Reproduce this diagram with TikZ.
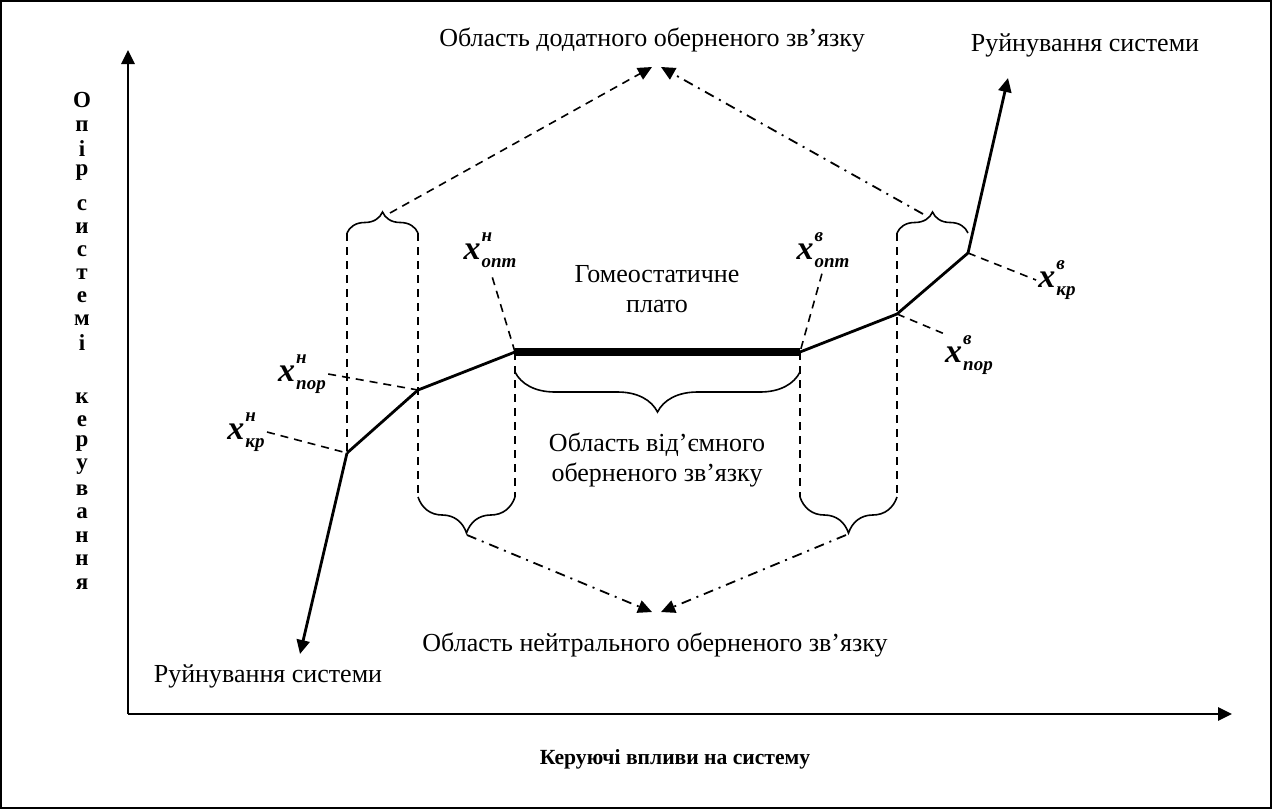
\documentclass[tikz,border=0pt]{standalone}
\usepackage{fontspec}
\setmainfont{Liberation Serif}
\usetikzlibrary{arrows.meta, decorations.pathreplacing}

\newcommand{\idxfont}{\fontsize{9.5}{9.5}\selectfont\bfseries\itshape}
\newcommand{\xpt}[2]{\textbf{\textit{x}}\kern0.5pt\rlap{\raisebox{1.15ex}{\idxfont #1}}\raisebox{-0.5ex}{\idxfont #2}}

\begin{document}
\begin{tikzpicture}[
  x=0.5pt, y=-0.5pt, >={Triangle[length=7pt, width=6.5pt]},
  curve/.style={line width=1.4pt},
  plateau/.style={line width=4pt},
  guide/.style={line width=0.8pt, dash pattern=on 4pt off 3pt},
  dashdot/.style={line width=0.9pt, dash pattern=on 5pt off 3pt on 1pt off 3pt},
  brc/.style={decorate, decoration={brace, amplitude=#1}, line width=0.8pt},
  txt/.style={font=\fontsize{13}{15}\selectfont, align=center, inner sep=0pt},
  xlab/.style={font=\fontsize{17}{17}\selectfont, inner sep=1pt},
  axletter/.style={font=\fontsize{11.5}{12}\selectfont\bfseries, inner sep=0pt}
]
  \useasboundingbox (0,0) rectangle (1272,809);
  \draw[line width=0.8pt] (1,1) rectangle (1271,808);

  % axes
  \coordinate (O) at (128,714);
  \coordinate (ytip) at (128,50);
  \coordinate (xtip) at (1232,714);
  \draw[line width=1.3pt, ->] (O) -- (ytip);
  \draw[line width=1.3pt, ->] (O) -- (xtip);
  \node[txt, font=\fontsize{10.8}{13}\selectfont\bfseries] (xname) at (675,759) {Керуючі впливи на систему};
  \foreach \ch/\yy in {О/100, п/126, і/149, р/173, с/205, и/228, с/251, т/274, е/297, м/320, і/343,
                       к/398, е/421, р/444, у/467, в/490, а/513, н/537, н/560, я/584}
    \node[axletter] at (82,\yy) {\ch};

  % characteristic curve
  \coordinate (P1) at (347,453);
  \coordinate (P2) at (418,390);
  \coordinate (P3) at (515,352);
  \coordinate (P4) at (800,352);
  \coordinate (P5) at (897,314);
  \coordinate (P6) at (968,253);
  \coordinate (upend) at (1008,78);
  \coordinate (downend) at (300,654);
  \draw[curve, ->] (P1) -- (downend);
  \draw[curve] (P1) -- (P2) -- (P3);
  \draw[plateau] (P3) -- (P4);
  \draw[curve] (P4) -- (P5) -- (P6);
  \draw[curve, ->] (P6) -- (upend);

  % dashed verticals
  \draw[guide] (347,233) -- (P1);
  \draw[guide] (418,233) -- (418,497);
  \draw[guide] (P3) -- (515,497);
  \draw[guide] (P4) -- (800,497);
  \draw[guide] (897,233) -- (897,497);

  % braces
  \draw[brc=10.5pt] (347,233) -- (418,233);
  \draw[brc=10.5pt] (897,233) -- (968,233);
  \draw[brc=20pt] (800,372) -- (515,372);
  \draw[brc=18pt] (515,497) -- (418,497);
  \draw[brc=18pt] (897,497) -- (800,497);
  \coordinate (tl) at (390,213);
  \coordinate (tr) at (923,214);
  \coordinate (bl) at (467,535);
  \coordinate (br) at (846,535);

  % feedback regions
  \node[txt] (pos) at (652,40) {Область додатного оберненого зв’язку};
  \node[txt] (neu) at (655,645) {Область нейтрального оберненого зв’язку};
  \coordinate (pos1) at (652,67);
  \coordinate (pos2) at (661,67);
  \coordinate (neu1) at (652,612);
  \coordinate (neu2) at (661,612);
  \draw[guide, ->] (tl) -- (pos1);
  \draw[dashdot, ->] (tr) -- (pos2);
  \draw[dashdot, ->] (bl) -- (neu1);
  \draw[dashdot, ->] (br) -- (neu2);

  \node[txt] (plato) at (657,289) {Гомеостатичне\\плато};
  \node[txt] (neg) at (657,460) {Область від’ємного\\оберненого зв’язку};
  \node[txt] (crash1) at (1085,45) {Руйнування системи};
  \node[txt] (crash2) at (268,676) {Руйнування системи};

  % threshold points
  \node[xlab] (kn) at (246,432) {\xpt{н}{кр}};
  \node[xlab] (pn) at (302,374) {\xpt{н}{пор}};
  \node[xlab] (on) at (490,250) {\xpt{н}{опт}};
  \node[xlab] (ov) at (823,250) {\xpt{в}{опт}};
  \node[xlab] (pv) at (969,355) {\xpt{в}{пор}};
  \node[xlab] (kv) at (1057,280) {\xpt{в}{кр}};
  \draw[guide] (kn.east) -- (P1);
  \draw[guide] (pn.east) -- (P2);
  \draw[guide, shorten <=4pt] (on.south) -- (P3);
  \draw[guide, shorten <=2pt] (ov.south) -- (P4);
  \draw[guide] (P5) -- (pv.north west);
  \draw[guide] (P6) -- (kv.west);
\end{tikzpicture}
\end{document}
